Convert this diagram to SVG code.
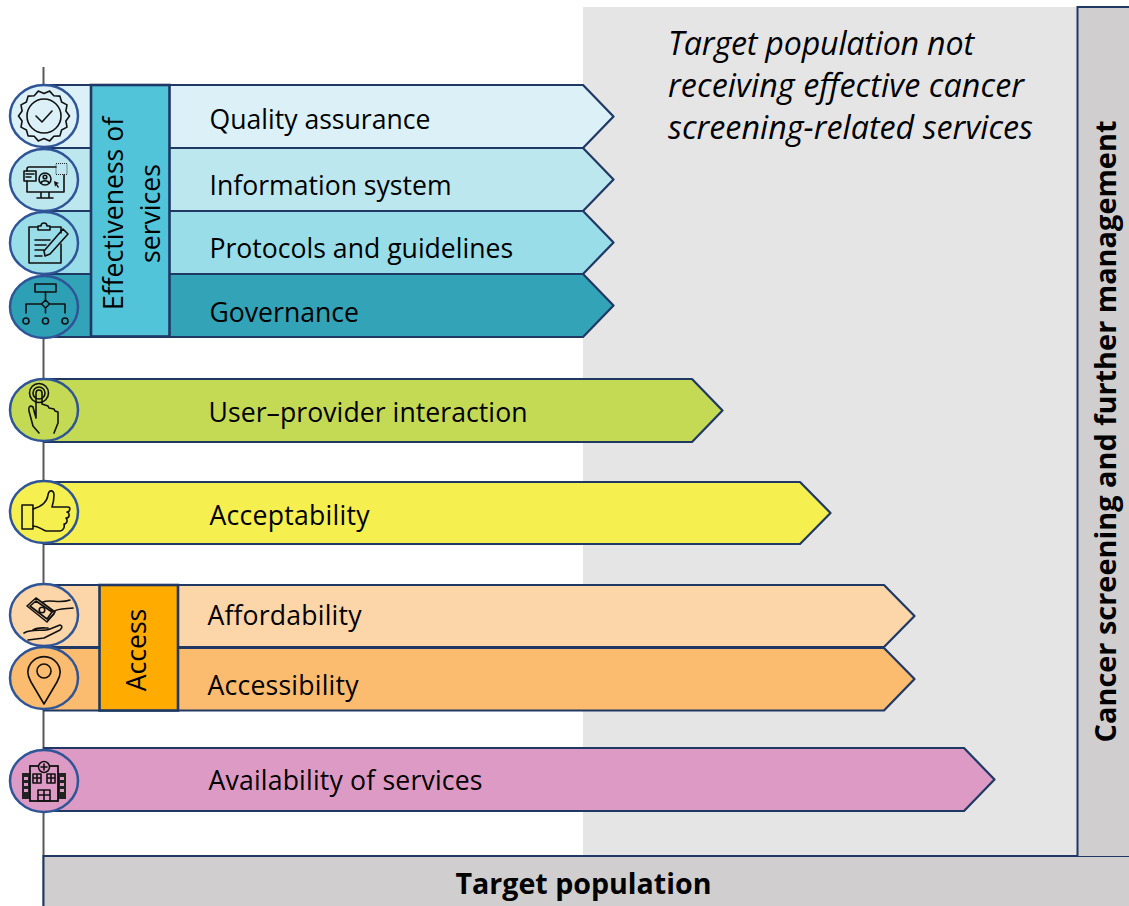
<svg xmlns="http://www.w3.org/2000/svg" width="1129" height="906" viewBox="0 0 1129 906">
<style>
text{font-family:"Open Sans","Noto Sans","Liberation Sans",sans-serif;fill:#000}
.lab{font-size:26.6px}
.bar{stroke:#1f3864;stroke-width:2.2;stroke-linejoin:round}
.box{stroke:#1f3864;stroke-width:2.6}
.cir{stroke:#2f5597;stroke-width:2.5}
.ic{fill:none;stroke:#111;stroke-width:1.6;stroke-linejoin:round;stroke-linecap:round}
.hd{font-size:28.6px;font-weight:700}
.note{font-size:32.2px;font-style:italic}
</style>
<rect x="583" y="7" width="494" height="849" fill="#e5e5e6"/>
<g id="connectors">
<line x1="43.500" y1="67" x2="43.500" y2="906" stroke="#595959" stroke-width="2"/>
</g>
<g id="target-population">
<rect x="44" y="856" width="1085" height="50" fill="#d0cece"/>
<path d="M43.500 906V856H1129" fill="none" stroke="#1f3864" stroke-width="2"/>
<text x="583.500" y="894" text-anchor="middle" class="hd">Target population</text>
</g>
<g id="screening">
<path d="M1077.500 856V7H1129V856Z" fill="#d0cece"/>
<path d="M1129 7H1077.500V856" fill="none" stroke="#1f3864" stroke-width="2"/>
<text transform="translate(1116 431.500) rotate(-90)" text-anchor="middle" class="hd" style="font-size:28.9px">Cancer screening and further management</text>
</g>
<g id="not-receiving">
<text x="668" y="55" class="note" textLength="306">Target population not</text>
<text x="668" y="97" class="note" textLength="356">receiving effective cancer</text>
<text x="668" y="139" class="note" textLength="365">screening-related services</text>
</g>
<g id="quality">
<path class="bar" d="M44 85H583L613.500 116.500L583 148H44Z" fill="#dbf1f7"/>
<text x="209.500" y="129" class="lab">Quality assurance</text>
</g>
<g id="information">
<path class="bar" d="M44 148H583L613.500 179.500L583 211H44Z" fill="#bce7ef"/>
<text x="209.500" y="195" class="lab">Information system</text>
</g>
<g id="protocols">
<path class="bar" d="M44 211H583L613.500 242.500L583 274H44Z" fill="#99dde9"/>
<text x="209.500" y="258" class="lab">Protocols and guidelines</text>
</g>
<g id="governance">
<path class="bar" d="M44 274H583L613.500 305.500L583 337H44Z" fill="#33a3b8"/>
<text x="209.500" y="322" class="lab">Governance</text>
</g>
<g id="effectiveness">
<rect x="91" y="85" width="78.500" height="251.500" fill="#52c4d9" class="box"/>
<text transform="translate(123 213.500) rotate(-90)" text-anchor="middle" class="lab">Effectiveness of</text>
<text transform="translate(160 213.500) rotate(-90)" text-anchor="middle" class="lab">services</text>
</g>
<g id="user-provider">
<path class="bar" d="M44 379H692L722.500 410.500L692 442H44Z" fill="#c4da55"/>
<text x="208.500" y="422" class="lab" textLength="319">User–provider interaction</text>
</g>
<g id="acceptability">
<path class="bar" d="M44 482H800L830.500 513L800 544H44Z" fill="#f5f04f"/>
<text x="209.500" y="525" class="lab" textLength="160">Acceptability</text>
</g>
<g id="affordability">
<path class="bar" d="M44 585H884L914.500 616L884 647H44Z" fill="#fcd5a8"/>
<text x="207.500" y="625" class="lab" textLength="154">Affordability</text>
</g>
<g id="accessibility">
<path class="bar" d="M44 648H884L914.500 679L884 710.500H44Z" fill="#fbbc70"/>
<text x="207.500" y="695" class="lab" textLength="151">Accessibility</text>
</g>
<g id="access">
<rect x="99.500" y="585" width="78.500" height="125.500" fill="#ffab00" class="box"/>
<text transform="translate(146 650) rotate(-90)" text-anchor="middle" class="lab">Access</text>
</g>
<g id="availability">
<path class="bar" d="M44 748H964L994.500 779.500L964 811H44Z" fill="#dd9ac5"/>
<text x="208.500" y="790" class="lab" textLength="274">Availability of services</text>
</g>
<g id="icon-quality">
<ellipse class="cir" cx="44" cy="116" rx="34" ry="31" fill="#dbf1f7"/>
<path class="ic" d="M69.500 116L65.900 121L67 127.100L61.600 130L59.900 135.900L53.800 136.300L49.700 140.900L44 138.500L38.300 140.900L34.200 136.300L28.100 135.900L26.400 130L21 127.100L22.100 121L18.500 116L22.100 111L21 104.900L26.400 102L28.100 96.100L34.200 95.700L38.300 91.100L44 93.500L49.700 91.100L53.800 95.700L59.900 96.100L61.600 102L67 104.900L65.900 111Z"/>
<circle class="ic" cx="44" cy="116" r="17"/>
<path class="ic" d="M36 116l6 6 10-11"/>
</g>
<g id="icon-information">
<ellipse class="cir" cx="44" cy="180" rx="34" ry="31" fill="#bce7ef"/>
<path class="ic" d="M27 171v-2a2 2 0 0 1 2-2h27M64 175v17H27v-11M41 192v6M49 192v6M37 198h16"/>
<rect class="ic" x="24" y="171" width="12" height="10" fill="#bce7ef"/>
<path class="ic" d="M26 174h8M26 177h5"/>
<circle class="ic" cx="45" cy="179" r="6"/>
<circle class="ic" cx="45" cy="177" r="1.800"/>
<path class="ic" d="M41 183c1-3 7-3 8 0"/>
<path d="M54 181l5 2-2 1 2 3-1 1-2-3-1 2z" fill="#111"/>
<rect x="56" y="163.500" width="11" height="11" fill="none" stroke="#222" stroke-width="1" stroke-dasharray="1 1"/>
</g>
<g id="icon-protocols">
<ellipse class="cir" cx="44" cy="243" rx="34" ry="31" fill="#99dde9"/>
<path class="ic" d="M37 227H29V263H61V244M51 227H61V233"/>
<path class="ic" d="M38 230V226H41a3 3 0 0 1 6 0H50V230Z"/>
<path class="ic" d="M35 240H50M35 245H46M35 250H44M35 256H42M44 251L45 256L50 254L68 234L63 229Z"/>
</g>
<g id="icon-governance">
<ellipse class="cir" cx="44" cy="307" rx="34" ry="31" fill="#2da0b6"/>
<rect class="ic" x="35" y="284" width="21" height="8"/>
<path class="ic" d="M45.500 292V300M45.500 300l4 4-4 4-4-4zM41 304H26V313M50 304H65V313M45.500 308V313"/>
<circle class="ic" cx="26" cy="321" r="3"/>
<circle class="ic" cx="45.500" cy="321" r="3"/>
<circle class="ic" cx="65" cy="321" r="3"/>
</g>
<g id="icon-user-provider">
<ellipse class="cir" cx="44" cy="410" rx="34" ry="31" fill="#c4da55"/>
<circle class="ic" cx="39" cy="393" r="9.500"/>
<circle class="ic" cx="39" cy="393" r="6"/>
<path class="ic" d="M36 418V393a3 3 0 0 1 6 0V404l6 2 1 2 5 1 1 2 3 1V423L54 433M36 418L33 407c-3-2-5 0-4 4L33 426L39 433"/>
</g>
<g id="icon-acceptability">
<ellipse class="cir" cx="44" cy="512" rx="34" ry="31" fill="#f5f04f"/>
<rect class="ic" x="22" y="505" width="11" height="24"/>
<path class="ic" d="M33 509C40 507 47 503 48 495C49 489 54 490 54 495C54 500 53 504 52 507H68C71 507 70 512 67 512C70 513 70 518 66 518C68 520 67 524 64 524C65 527 63 531 60 531H46C42 530 39 526 33 526"/>
</g>
<g id="icon-affordability">
<ellipse class="cir" cx="44" cy="615" rx="34" ry="31" fill="#fcd5a8"/>
<path class="ic" d="M27 606L36 598L55 612L47 622ZM30 606L36 601L52 612L47 619Z"/>
<circle class="ic" cx="42" cy="610" r="2.800"/>
<path class="ic" d="M43 602C50 599 60 604 70 600M53 612C58 608 66 609 73 608M48 620L54 614M24 633C32 628 44 632 50 629L60 625C63 626 62 628 60 630L44 638L28 640M33 630C38 627 44 628 48 628"/>
</g>
<g id="icon-accessibility">
<ellipse class="cir" cx="44" cy="678" rx="34" ry="31" fill="#fbbc70"/>
<path class="ic" d="M44 704L31 682C27 675 27 668 31 663A16.500 16.500 0 0 1 57 663C61 668 61 675 57 682Z"/>
<circle class="ic" cx="44" cy="671" r="7"/>
</g>
<g id="icon-availability">
<ellipse class="cir" cx="44" cy="781" rx="34" ry="31" fill="#dd9ac5"/>
<path d="M22 773H31V799H22ZM57 773H66V799H57Z" fill="#222"/>
<rect x="30" y="766" width="28" height="35" fill="#dd9ac5" stroke="#111" stroke-width="1.800"/>
<circle cx="44" cy="767" r="5.500" fill="#dd9ac5" stroke="#111" stroke-width="1.500"/>
<path class="ic" d="M44 764V770M41 767H47M33 774H41V783H33ZM47 774H55V783H47ZM37 774V783M33 778H41M51 774V783M47 778H55M38 790H50V801H38ZM44 790V801M38 795H50"/>
<path d="M24 777h4v3h-4zM24 783h4v3h-4zM24 789h4v3h-4zM60 777h4v3h-4zM60 783h4v3h-4zM60 789h4v3h-4z" fill="#dd9ac5"/>
</g>
</svg>
